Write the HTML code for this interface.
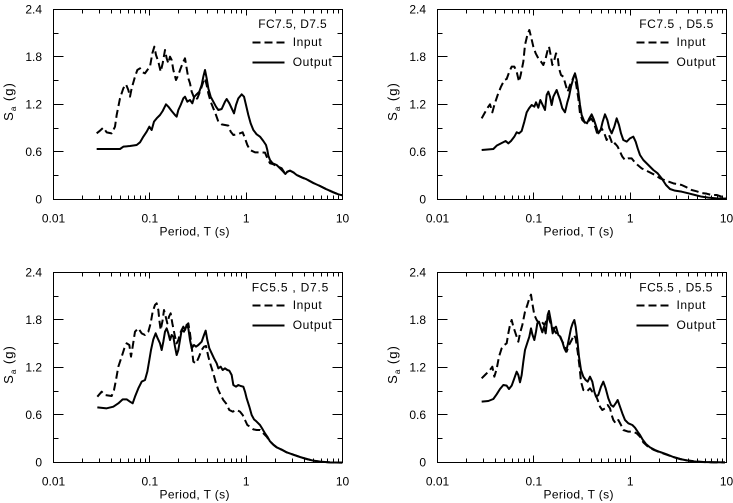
<!DOCTYPE html>
<html>
<head>
<meta charset="utf-8">
<style>
  html, body { margin:0; padding:0; background:#fff; }
  svg { display:block; }
  text { font-family: "Liberation Sans", Arial, sans-serif; fill:#000; }
</style>
</head>
<body>
<svg width="733" height="503" viewBox="0 0 733 503" xmlns="http://www.w3.org/2000/svg">
  <rect x="0" y="0" width="733" height="503" fill="#fff"/>
  <defs>
    <g id="frame" fill="none" stroke="#000" stroke-width="1" shape-rendering="crispEdges">
      <rect x="0" y="0" width="289" height="190"/>
      <path d="M29,190v-4M46,190v-4M58,190v-4M67,190v-4M75,190v-4M81,190v-4M87,190v-4M92,190v-4M96,190v-7M125,190v-4M142,190v-4M154,190v-4M164,190v-4M171,190v-4M178,190v-4M183,190v-4M188,190v-4M193,190v-7M222,190v-4M239,190v-4M251,190v-4M260,190v-4M268,190v-4M274,190v-4M280,190v-4M285,190v-4"/>
      <path d="M29,0v4M46,0v4M58,0v4M67,0v4M75,0v4M81,0v4M87,0v4M92,0v4M96,0v6M125,0v4M142,0v4M154,0v4M164,0v4M171,0v4M178,0v4M183,0v4M188,0v4M193,0v6M222,0v4M239,0v4M251,0v4M260,0v4M268,0v4M274,0v4M280,0v4M285,0v4"/>
      <path d="M0,166h5M0,142h10M0,119h5M0,95h10M0,71h5M0,47h10M0,24h5"/>
      <path d="M289,166h-5M289,142h-10M289,119h-5M289,95h-10M289,71h-5M289,47h-10M289,24h-5"/>
    </g>
  </defs>

  <!-- frames -->
  <use href="#frame" transform="translate(53.5,9.5)"/>
  <use href="#frame" transform="translate(437.5,9.5)"/>
  <use href="#frame" transform="translate(53.5,272.5)"/>
  <use href="#frame" transform="translate(437.5,272.5)"/>

  <!-- ===== Top-left ===== -->
  <g font-size="12" text-anchor="end">
    <text x="42" y="13.5">2.4</text>
    <text x="42" y="61">1.8</text>
    <text x="42" y="108.5">1.2</text>
    <text x="42" y="156">0.6</text>
    <text x="42" y="203.5">0</text>
  </g>
  <g font-size="12" text-anchor="middle">
    <text x="53.5" y="222.5">0.01</text>
    <text x="149.8" y="222.5">0.1</text>
    <text x="246.2" y="222.5">1</text>
    <text x="342.5" y="222.5">10</text>
  </g>
  <text x="159.5" y="235.5" font-size="12" textLength="70" lengthAdjust="spacing">Period, T (s)</text>
  <text transform="translate(13,101.5) rotate(-90)" font-size="13" text-anchor="middle" letter-spacing="1">S<tspan font-size="8" dy="3">a</tspan><tspan dy="-3"> (g)</tspan></text>
  <text x="258.3" y="28" font-size="12" textLength="68.4" lengthAdjust="spacing">FC7.5, D7.5</text>
  <line x1="252.5" y1="42.5" x2="284.5" y2="42.5" stroke="#000" stroke-width="2" stroke-dasharray="8 4"/>
  <text x="292.7" y="46" font-size="12" textLength="29" lengthAdjust="spacing">Input</text>
  <line x1="252.5" y1="62.5" x2="284.5" y2="62.5" stroke="#000" stroke-width="2"/>
  <text x="292.7" y="66" font-size="12" textLength="39" lengthAdjust="spacing">Output</text>

  <g transform="scale(0.333333)" fill="none" stroke="#000" stroke-width="6" stroke-linejoin="round">
    <polyline points="290,447 360,447 370,440 390,438 410,435 420,427 430,410 440,395 448,380 455,390 462,365 470,355 480,345 488,333 498,313 505,320 515,333 525,345 530,350 535,330 542,315 550,295 555,290 562,305 570,300 577,310 583,290 590,283 598,275 605,255 610,230 615,210 620,235 625,265 632,290 640,305 648,320 655,330 665,327 675,305 680,297 688,310 695,325 702,340 708,315 715,295 725,283 732,290 738,315 745,345 752,370 760,390 770,403 780,410 790,423 798,435 802,450 805,467 810,480 818,490 830,495 840,505 850,515 856,522 862,515 870,512 880,517 890,525 905,532 920,538 940,549 960,558 980,568 1000,577 1015,583 1027,586"/>
    <polyline stroke-dasharray="24 12" points="290,400 300,392 310,383 320,397 335,400 345,380 350,345 360,295 370,265 378,253 385,270 390,290 395,265 405,230 412,210 420,205 428,217 435,220 442,210 450,200 457,160 463,140 468,165 475,185 482,215 488,190 495,150 500,175 505,190 510,170 515,180 520,210 528,240 535,225 542,205 550,185 555,175 560,205 565,235 570,250 575,275 585,300 592,295 600,275 610,245 615,235 620,255 625,280 632,305 640,325 648,345 655,365 665,373 675,375 685,377 692,395 700,405 710,403 720,400 728,397 735,415 742,435 750,450 765,457 780,457 795,458 802,475 810,490 818,492 830,498 845,505 856,522 862,515 870,512 880,517 890,525 905,532 920,538 940,549 960,558 980,568 1000,577 1015,583 1027,586"/>
  </g>

  <!-- ===== Top-right ===== -->
  <g font-size="12" text-anchor="end">
    <text x="426" y="13.5">2.4</text>
    <text x="426" y="61">1.8</text>
    <text x="426" y="108.5">1.2</text>
    <text x="426" y="156">0.6</text>
    <text x="426" y="203.5">0</text>
  </g>
  <g font-size="12" text-anchor="middle">
    <text x="437.5" y="222.5">0.01</text>
    <text x="533.8" y="222.5">0.1</text>
    <text x="630.2" y="222.5">1</text>
    <text x="726.5" y="222.5">10</text>
  </g>
  <text x="543.5" y="235.5" font-size="12" textLength="70" lengthAdjust="spacing">Period, T (s)</text>
  <text transform="translate(397,101.5) rotate(-90)" font-size="13" text-anchor="middle" letter-spacing="1">S<tspan font-size="8" dy="3">a</tspan><tspan dy="-3"> (g)</tspan></text>
  <text x="639.3" y="28" font-size="12" textLength="74" lengthAdjust="spacing">FC7.5 , D5.5</text>
  <line x1="636.5" y1="42.5" x2="668.5" y2="42.5" stroke="#000" stroke-width="2" stroke-dasharray="8 4"/>
  <text x="676.5" y="46" font-size="12" textLength="29" lengthAdjust="spacing">Input</text>
  <line x1="636.5" y1="62.5" x2="668.5" y2="62.5" stroke="#000" stroke-width="2"/>
  <text x="676.5" y="66" font-size="12" textLength="39" lengthAdjust="spacing">Output</text>

  <g transform="translate(370,0) scale(0.333333)" fill="none" stroke="#000" stroke-width="6" stroke-linejoin="round">
    <polyline points="335,450 370,447 380,437 393,430 407,423 415,430 423,423 433,410 440,397 447,400 455,393 463,365 470,337 477,325 485,315 493,320 498,307 505,323 511,300 518,315 525,330 530,285 535,275 540,290 545,315 550,290 555,280 560,270 565,285 570,300 577,325 585,337 592,307 597,290 603,260 610,235 615,220 620,240 625,275 630,315 635,345 643,365 651,370 658,355 665,343 671,357 677,375 685,400 692,390 698,365 705,343 712,360 718,385 725,400 733,380 740,355 747,375 753,400 760,420 770,425 780,415 790,410 797,425 803,445 810,465 820,480 835,495 850,510 863,520 875,535 888,555 900,567 915,572 935,575 955,580 975,585 995,590 1015,593 1040,595 1068,596"/>
    <polyline stroke-dasharray="24 12" points="335,355 345,337 355,320 360,313 367,337 373,315 383,285 393,260 403,240 410,237 418,215 425,200 433,200 440,215 447,245 452,225 460,185 465,135 472,105 478,90 483,110 490,140 497,160 505,175 513,185 520,195 527,175 533,150 537,140 542,165 547,195 553,180 558,160 563,170 567,205 573,225 580,230 587,255 593,275 600,255 607,240 613,225 618,250 625,295 630,340 637,360 647,370 655,365 663,355 670,365 677,385 683,405 688,395 695,385 703,400 710,420 717,405 723,420 728,435 735,430 743,440 750,455 757,470 765,480 775,475 785,475 793,485 803,495 815,505 835,515 855,525 870,535 890,543 910,550 935,555 950,562 965,570 980,574 995,579 1010,581 1025,585 1040,585 1055,590 1068,593"/>
  </g>

  <!-- ===== Bottom-left ===== -->
  <g font-size="12" text-anchor="end">
    <text x="42" y="276.5">2.4</text>
    <text x="42" y="324">1.8</text>
    <text x="42" y="371.5">1.2</text>
    <text x="42" y="419">0.6</text>
    <text x="42" y="466.5">0</text>
  </g>
  <g font-size="12" text-anchor="middle">
    <text x="53.5" y="485.5">0.01</text>
    <text x="149.8" y="485.5">0.1</text>
    <text x="246.2" y="485.5">1</text>
    <text x="342.5" y="485.5">10</text>
  </g>
  <text x="159.5" y="498.5" font-size="12" textLength="70" lengthAdjust="spacing">Period, T (s)</text>
  <text transform="translate(13,364.5) rotate(-90)" font-size="13" text-anchor="middle" letter-spacing="1">S<tspan font-size="8" dy="3">a</tspan><tspan dy="-3"> (g)</tspan></text>
  <text x="251.7" y="291.5" font-size="12" textLength="76.6" lengthAdjust="spacing">FC5.5 , D7.5</text>
  <line x1="252.5" y1="305.5" x2="284.5" y2="305.5" stroke="#000" stroke-width="2" stroke-dasharray="8 4"/>
  <text x="292.7" y="309" font-size="12" textLength="29" lengthAdjust="spacing">Input</text>
  <line x1="252.5" y1="325.5" x2="284.5" y2="325.5" stroke="#000" stroke-width="2"/>
  <text x="292.7" y="329" font-size="12" textLength="39" lengthAdjust="spacing">Output</text>

  <g transform="translate(0,253) scale(0.333333)" fill="none" stroke="#000" stroke-width="6" stroke-linejoin="round">
    <polyline points="292,463 320,466 340,461 355,451 368,439 380,439 390,446 398,451 405,431 415,406 425,386 435,381 442,356 448,321 453,291 460,259 467,241 473,256 480,271 485,291 490,266 495,236 500,226 505,241 510,261 515,246 520,251 525,281 530,306 535,291 540,261 545,231 550,221 555,231 560,216 565,226 570,261 575,286 582,276 588,281 595,276 605,266 612,246 617,233 622,261 628,286 635,301 642,316 650,331 655,346 662,341 668,351 675,346 682,351 688,353 695,366 700,396 708,401 715,396 722,399 730,401 735,416 740,436 748,461 755,486 762,499 770,506 780,516 788,529 795,541 802,551 810,565 820,575 830,583 845,590 860,598 880,605 900,612 920,618 940,623 960,626 990,628 1027,629"/>
    <polyline stroke-dasharray="24 12" points="292,431 305,416 315,426 335,429 342,411 348,381 355,341 365,311 373,286 380,271 388,276 393,311 398,281 405,236 415,226 425,241 435,246 445,236 452,211 458,176 465,156 470,151 475,171 478,201 482,231 488,201 492,171 497,191 502,211 507,191 512,181 517,211 525,251 530,271 535,261 540,241 545,231 552,236 560,216 565,211 570,241 575,281 580,326 588,331 595,316 605,291 612,281 618,279 625,311 632,336 640,361 648,391 655,411 662,426 670,441 678,451 688,471 698,476 710,471 720,476 728,486 735,501 742,516 750,521 760,529 770,531 780,531 790,541 800,551 810,565 820,575 830,583 845,590 860,598 880,605 900,612 920,618 940,623 960,626 990,628 1027,629"/>
  </g>

  <!-- ===== Bottom-right ===== -->
  <g font-size="12" text-anchor="end">
    <text x="426" y="276.5">2.4</text>
    <text x="426" y="324">1.8</text>
    <text x="426" y="371.5">1.2</text>
    <text x="426" y="419">0.6</text>
    <text x="426" y="466.5">0</text>
  </g>
  <g font-size="12" text-anchor="middle">
    <text x="437.5" y="485.5">0.01</text>
    <text x="533.8" y="485.5">0.1</text>
    <text x="630.2" y="485.5">1</text>
    <text x="726.5" y="485.5">10</text>
  </g>
  <text x="543.5" y="498.5" font-size="12" textLength="70" lengthAdjust="spacing">Period, T (s)</text>
  <text transform="translate(397,364.5) rotate(-90)" font-size="13" text-anchor="middle" letter-spacing="1">S<tspan font-size="8" dy="3">a</tspan><tspan dy="-3"> (g)</tspan></text>
  <text x="639.3" y="291.5" font-size="12" textLength="73" lengthAdjust="spacing">FC5.5 , D5.5</text>
  <line x1="636.5" y1="305.5" x2="668.5" y2="305.5" stroke="#000" stroke-width="2" stroke-dasharray="8 4"/>
  <text x="676.5" y="309" font-size="12" textLength="29" lengthAdjust="spacing">Input</text>
  <line x1="636.5" y1="325.5" x2="668.5" y2="325.5" stroke="#000" stroke-width="2"/>
  <text x="676.5" y="329" font-size="12" textLength="39" lengthAdjust="spacing">Output</text>

  <g transform="translate(370,253) scale(0.333333)" fill="none" stroke="#000" stroke-width="6" stroke-linejoin="round">
    <polyline points="335,446 355,444 370,438 380,424 390,408 400,396 410,398 417,408 425,398 433,376 440,356 445,366 450,388 455,366 460,326 465,291 473,266 478,251 483,226 487,244 493,261 498,236 502,211 507,206 513,226 517,238 522,221 527,241 533,186 537,174 543,206 548,241 553,226 558,221 565,246 571,251 577,266 583,286 588,296 593,276 598,251 603,226 608,211 613,201 617,221 622,261 627,311 633,351 640,371 647,381 653,386 660,371 667,386 673,416 678,431 685,426 693,401 700,386 707,406 715,436 723,456 730,461 737,451 743,441 750,461 757,481 765,501 775,511 787,516 795,524 803,536 810,546 818,560 828,573 840,583 855,591 870,597 890,604 910,612 930,618 950,622 970,625 990,627 1065,628"/>
    <polyline stroke-dasharray="24 12" points="335,376 345,366 360,351 367,341 373,371 380,348 387,311 395,286 403,276 410,271 415,241 420,216 425,201 430,221 435,236 440,251 445,266 450,241 457,216 465,176 472,156 478,136 483,125 487,151 493,186 500,201 507,211 515,206 523,216 530,201 535,191 540,206 547,221 555,236 563,246 570,251 577,266 583,276 590,296 597,276 605,261 612,246 617,256 623,296 628,336 633,386 640,411 650,416 660,406 667,416 675,421 683,441 690,461 697,471 705,466 713,456 720,466 725,486 730,501 737,511 745,501 753,516 760,531 775,536 790,536 800,541 810,551 820,568 835,582 850,590 870,598 890,605 910,612 930,618 950,622 975,625 1000,627 1030,628 1065,628"/>
  </g>
</svg>
</body>
</html>
